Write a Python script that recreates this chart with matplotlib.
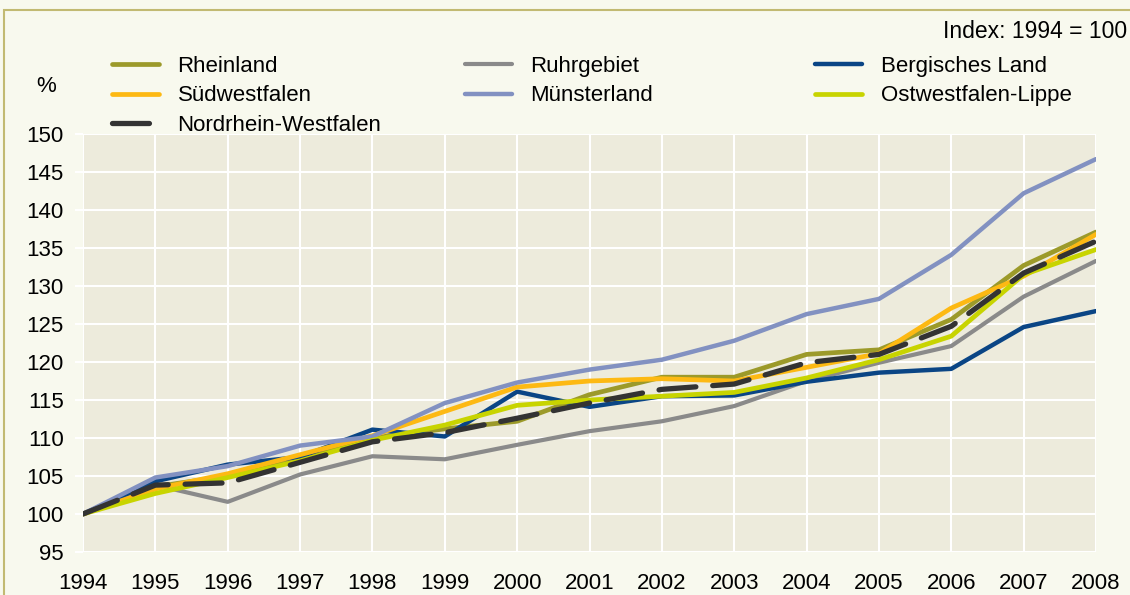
import numpy as np
import matplotlib
matplotlib.use("Agg")
import matplotlib.pyplot as plt
from matplotlib.patches import Rectangle

plt.rcParams['font.family'] = ['Liberation Sans', 'DejaVu Sans']

years = list(range(1994, 2009))

rheinland = [100, 103.6, 105.0, 107.2, 110.0, 111.2, 112.2, 115.7, 118.0, 118.0, 121.0, 121.6, 125.6, 132.7, 137.1]
ruhrgebiet = [100, 103.8, 101.6, 105.2, 107.6, 107.2, 109.1, 110.9, 112.2, 114.2, 117.5, 119.9, 122.1, 128.6, 133.3]
bergisches = [100, 104.3, 106.5, 107.5, 111.1, 110.2, 116.1, 114.1, 115.5, 115.6, 117.4, 118.6, 119.1, 124.6, 126.7]
suedwestfalen = [100, 103.3, 105.3, 107.8, 110.3, 113.5, 116.7, 117.5, 117.8, 117.5, 119.3, 121.1, 127.1, 131.3, 136.8]
muensterland = [100, 104.8, 106.3, 109.0, 110.2, 114.6, 117.3, 119.0, 120.3, 122.8, 126.3, 128.3, 134.1, 142.2, 146.7]
owl = [100, 102.7, 104.8, 107.0, 109.7, 111.7, 114.3, 115.0, 115.5, 116.0, 117.9, 120.3, 123.4, 131.5, 134.8]
nrw = [100, 103.8, 104.1, 106.8, 109.5, 110.7, 112.6, 114.6, 116.4, 117.1, 119.9, 121.0, 124.7, 131.7, 135.9]

series = [
    ("Rheinland", rheinland, "#9C9A2A", 3.4),
    ("Ruhrgebiet", ruhrgebiet, "#8A8A8A", 3.0),
    ("Bergisches Land", bergisches, "#0A4585", 3.2),
    ("Südwestfalen", suedwestfalen, "#FDB913", 3.4),
    ("Münsterland", muensterland, "#8291C1", 3.2),
    ("Ostwestfalen-Lippe", owl, "#C8D400", 3.4),
]

W, H = 1130, 595
fig = plt.figure(figsize=(W / 100, H / 100), dpi=100)
fig.patch.set_facecolor("#F8F9EE")
fig.patches.append(Rectangle((4 / W, -0.1), 1.2, 1 - 10 / H + 0.1, transform=fig.transFigure,
                             fill=False, edgecolor="#C2BA72", linewidth=1.5))

ax = fig.add_axes([83 / W, 1 - 552 / H, (1096 - 83) / W, (552 - 134) / H])
ax.set_facecolor("#EDEBDC")

handles = {}
for name, vals, col, lw in series:
    handles[name], = ax.plot(years, vals, color=col, lw=lw, solid_capstyle='round', label=name)
handles["Nordrhein-Westfalen"], = ax.plot(years, nrw, color="#333333", lw=3.8, dashes=(7, 3.2),
                                          dash_capstyle='round', label="Nordrhein-Westfalen")

ax.set_xlim(1994, 2008)
ax.set_ylim(95, 150)
ax.set_xticks(years)
ax.set_yticks(range(95, 151, 5))
ax.grid(True, color="white", lw=1.5)
ax.set_axisbelow(True)
for s in ax.spines.values():
    s.set_visible(False)
ax.tick_params(axis='y', length=6, width=1.5, color="white", pad=8, labelsize=16)
ax.tick_params(axis='x', length=0, pad=15, labelsize=16)

cols = [
    (112, ["Rheinland", "Südwestfalen", "Nordrhein-Westfalen"]),
    (465, ["Ruhrgebiet", "Münsterland"]),
    (815, ["Bergisches Land", "Ostwestfalen-Lippe"]),
]
for xpix, names in cols:
    leg = fig.legend([handles[n] for n in names], names, loc='upper left',
                     bbox_to_anchor=(xpix / W, 1 - 56 / H), frameon=False, fontsize=16,
                     handlelength=2.1, handletextpad=0.85, labelspacing=0.38,
                     borderpad=0, borderaxespad=0)

fig.text(1127 / W, 1 - 31 / H, "Index: 1994 = 100", ha='right', va='center', fontsize=16.5)
fig.text(46 / W, 1 - 87 / H, "%", ha='center', va='center', fontsize=16)

fig.savefig("out.png", dpi=100, facecolor=fig.get_facecolor())
